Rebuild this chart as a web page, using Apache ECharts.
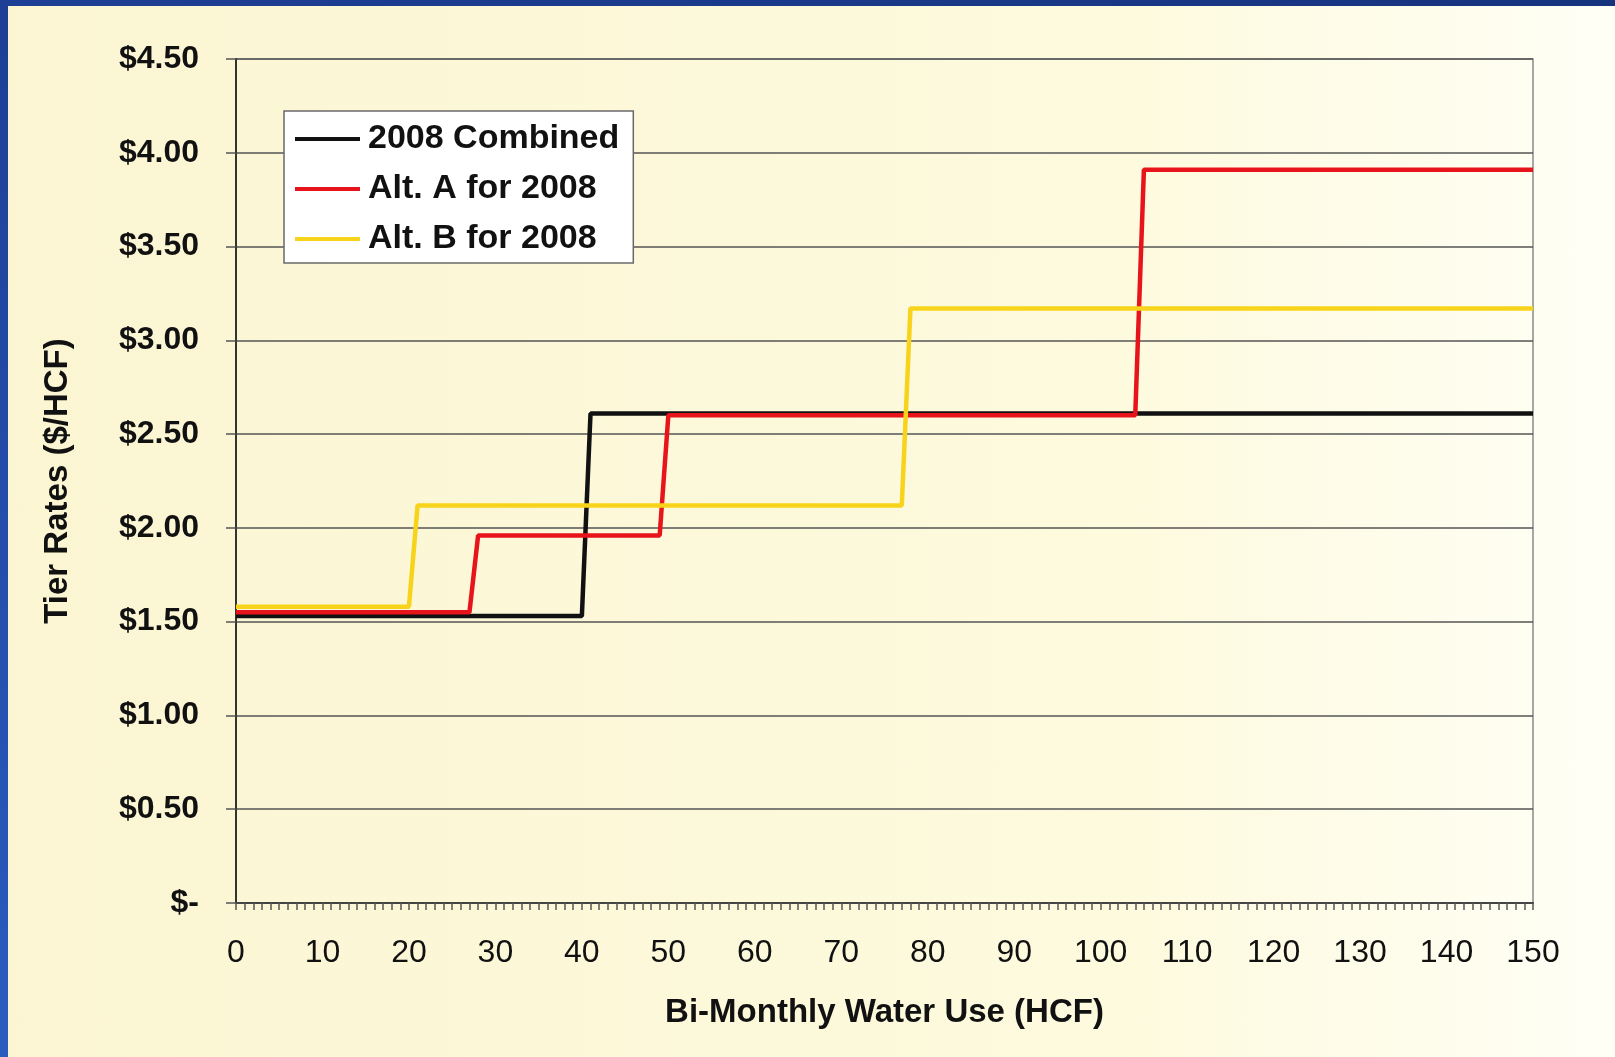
<!DOCTYPE html>
<html>
<head>
<meta charset="utf-8">
<script src="https://cdn.jsdelivr.net/npm/echarts@6/dist/echarts.min.js"></script>
<style>
  html, body { margin: 0; padding: 0; width: 1615px; height: 1057px; overflow: hidden; }
  #bg {
    position: absolute; left: 0; top: 0; width: 1615px; height: 1057px;
    background: linear-gradient(to right, #fbf5d2 0%, #fcf8d9 40%, #fdfade 70%, #fefdec 88%, #fffff6 100%);
  }
  #topband { position: absolute; left: 0; top: 0; width: 1615px; height: 6px; background: linear-gradient(to right, #1d3f95, #16337e); }
  #leftband { position: absolute; left: 0; top: 0; width: 8px; height: 1057px; background: linear-gradient(to bottom, #1d3f95, #2a5cc0); }
  #chart { position: absolute; left: 0; top: 0; width: 1615px; height: 1057px; }
</style>
</head>
<body>
<div id="bg"></div>
<div id="topband"></div>
<div id="leftband"></div>
<div id="chart"></div>
<script>
// ---- data (step corner points) ----
const seriesNames = ['2008 Combined', 'Alt. A for 2008', 'Alt. B for 2008'];

const combinedX = [0, 40, 41, 150];
const combinedY = [1.53, 1.53, 2.61, 2.61];

const altAX = [0, 27, 28, 49, 50, 104, 105, 150];
const altAY = [1.55, 1.55, 1.96, 1.96, 2.60, 2.60, 3.91, 3.91];

const altBX = [0, 20, 21, 77, 78, 150];
const altBY = [1.58, 1.58, 2.12, 2.12, 3.17, 3.17];

const xTicks = [0, 10, 20, 30, 40, 50, 60, 70, 80, 90, 100, 110, 120, 130, 140, 150];
const yTicks = [0, 0.5, 1, 1.5, 2, 2.5, 3, 3.5, 4, 4.5];

const xTitle = 'Bi-Monthly Water Use (HCF)';
const yTitle = 'Tier Rates ($/HCF)';

const colors = ['#111111', '#e8141b', '#f7d31a'];

function pairs(xs, ys) { return xs.map((x, i) => [x, ys[i]]); }

const chart = echarts.init(document.getElementById('chart'), null, { renderer: 'canvas' });
const font = 'Liberation Sans, Arial, sans-serif';

chart.setOption({
  backgroundColor: 'transparent',
  animation: false,
  textStyle: { fontFamily: font },
  grid: {
    left: 236, right: 82, top: 59, bottom: 154,
    show: true, borderColor: '#8a8a8a', borderWidth: 1.5, backgroundColor: 'transparent'
  },
  legend: {
    data: seriesNames,
    orient: 'vertical',
    left: 284, top: 111,
    icon: 'rect',
    itemWidth: 65, itemHeight: 4,
    itemGap: 14,
    padding: [10, 14, 6, 11],
    backgroundColor: '#ffffff',
    borderColor: '#6a6a6a',
    borderWidth: 1.5,
    textStyle: { fontFamily: font, fontSize: 34, fontWeight: 'bold', color: '#111', lineHeight: 36, padding: [0, 0, 0, 3] }
  },
  xAxis: {
    type: 'value',
    min: xTicks[0], max: xTicks[xTicks.length - 1], interval: 10,
    name: xTitle,
    nameLocation: 'middle',
    nameGap: 93,
    nameTextStyle: { fontFamily: font, fontSize: 33, fontWeight: 'bold', color: '#111' },
    axisLine: { show: true, lineStyle: { color: '#444', width: 2 } },
    axisTick: { show: true, length: 7, lineStyle: { color: '#555', width: 1.5 } },
    minorTick: { show: true, splitNumber: 10, length: 7, lineStyle: { color: '#555', width: 1.5 } },
    axisLabel: { fontFamily: font, fontSize: 32, color: '#111', margin: 34 },
    splitLine: { show: false }
  },
  yAxis: {
    type: 'value',
    min: yTicks[0], max: yTicks[yTicks.length - 1], interval: 0.5,
    name: yTitle,
    nameLocation: 'middle',
    nameRotate: 90,
    nameGap: 162,
    nameTextStyle: { fontFamily: font, fontSize: 33, fontWeight: 'bold', color: '#111' },
    axisLine: { show: true, lineStyle: { color: '#333', width: 2 } },
    axisTick: { show: true, length: 10, lineStyle: { color: '#555', width: 1.5 } },
    axisLabel: {
      fontFamily: font, fontSize: 32, fontWeight: 'bold', color: '#111', margin: 37,
      formatter: v => v === 0 ? '$-' : '$' + v.toFixed(2)
    },
    splitLine: { show: true, lineStyle: { color: '#555', width: 1.5 } }
  },
  series: [
    { name: seriesNames[0], type: 'line', data: pairs(combinedX, combinedY), symbol: 'none',
      lineStyle: { color: colors[0], width: 4.5 }, itemStyle: { color: colors[0] } },
    { name: seriesNames[1], type: 'line', data: pairs(altAX, altAY), symbol: 'none',
      lineStyle: { color: colors[1], width: 4.5 }, itemStyle: { color: colors[1] } },
    { name: seriesNames[2], type: 'line', data: pairs(altBX, altBY), symbol: 'none',
      lineStyle: { color: colors[2], width: 4.5 }, itemStyle: { color: colors[2] } }
  ]
});
</script>
</body>
</html>
